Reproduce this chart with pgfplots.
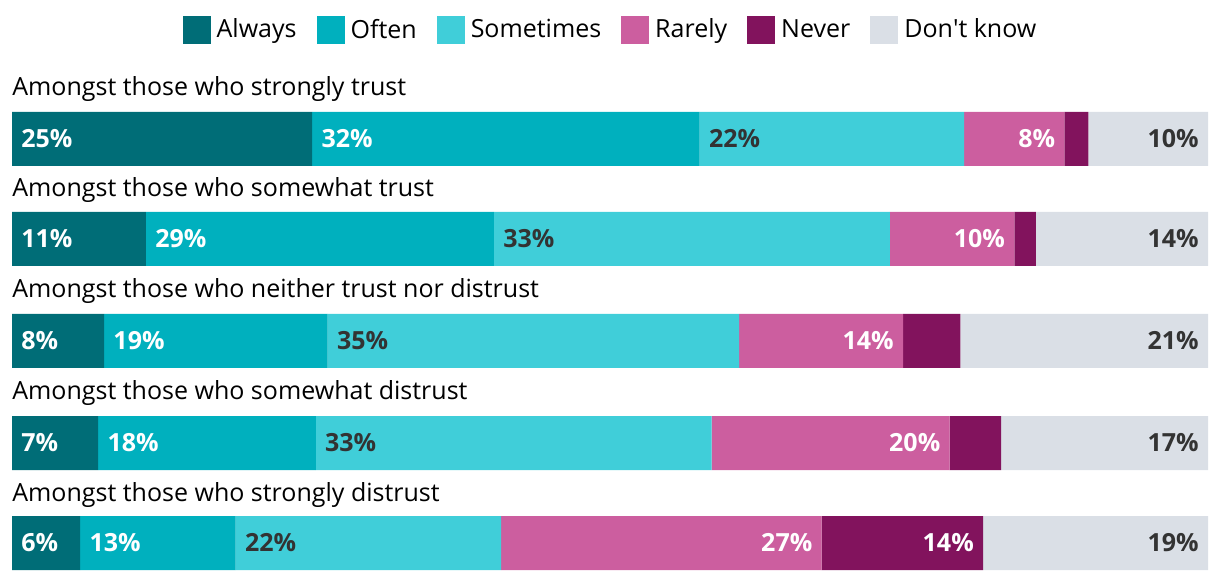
\documentclass[border=0pt]{standalone}
\usepackage{fontspec}
\setmainfont{Open Sans}
\usepackage{pgfplots}
\pgfplotsset{compat=1.18}
\usepackage{pgfplotstable}

\definecolor{cAlways}{HTML}{006D77}
\definecolor{cOften}{HTML}{00B0BE}
\definecolor{cSome}{HTML}{40CED9}
\definecolor{cRare}{HTML}{CC5E9F}
\definecolor{cNever}{HTML}{82135D}
\definecolor{cDK}{HTML}{DADFE6}
\definecolor{txt}{HTML}{333333}

% y = row centre in pixels from the top
\pgfplotstableread{
y al of so ra ne dk
139 25.1 32.4 22.1 8.4 2.0 10.0
239 11.2 29.1 33.1 10.4 1.8 14.4
341 7.7 18.7 34.4 13.7 4.8 20.7
443 7.2 18.2 33.1 19.9 4.3 17.3
543 5.7 13.0 22.2 26.8 13.5 18.8
}\bars

% labels at segment start, white
\pgfplotstableread{
x y t
0 139 25
25.1 139 32
0 239 11
11.2 239 29
0 341 8
7.7 341 19
0 443 7
7.2 443 18
0 543 6
5.7 543 13
}\labLW
% labels at segment start, dark
\pgfplotstableread{
x y t
57.5 139 22
40.3 239 33
26.4 341 35
25.4 443 33
18.7 543 22
}\labLD
% labels at segment end, white
\pgfplotstableread{
x y t
88.0 139 8
83.8 239 10
74.5 341 14
78.4 443 20
67.7 543 27
81.2 543 14
}\labRW
% labels at segment end, dark
\pgfplotstableread{
x y t
100 139 10
100 239 14
100 341 21
100 443 17
100 543 19
}\labRD

\newcommand\fnt{\fontsize{12.5}{15}\selectfont}

\begin{document}
\begin{tikzpicture}
\path[use as bounding box] (-6pt,0) rectangle (604pt,291pt);
\pgfplotsset{
  base/.style={scale only axis, width=598pt, height=291pt,
    xmin=0, xmax=100, ymin=0, ymax=582, y dir=reverse,
    axis lines=none, xtick=\empty, ytick=\empty, clip=false,
    at={(0,0)}, anchor=south west},
  lab/.style={only marks, mark=none, point meta=explicit symbolic,
    nodes near coords={\pgfplotspointmeta\%},
    every node near coord/.append style={font=\fnt\bfseries, inner sep=0pt}},
}
\begin{axis}[base, xbar stacked, bar width=27pt,
  legend columns=-1,
  legend style={at={(0.5,0.9485)}, anchor=center, draw=none, fill=none,
    font=\fnt, inner sep=0pt, nodes={inner sep=0.5pt},
    /tikz/every odd column/.append style={column sep=2.5pt},
    /tikz/every even column/.append style={column sep=9.5pt}},
  legend image code/.code={\fill[#1] (0pt,-7pt) rectangle (14pt,7pt);},
]
\addplot[fill=cAlways, draw=none] table[x=al, y=y] {\bars};
\addplot[fill=cOften, draw=none] table[x=of, y=y] {\bars};
\addplot[fill=cSome, draw=none] table[x=so, y=y] {\bars};
\addplot[fill=cRare, draw=none] table[x=ra, y=y] {\bars};
\addplot[fill=cNever, draw=none] table[x=ne, y=y] {\bars};
\addplot[fill=cDK, draw=none] table[x=dk, y=y] {\bars};
\legend{Always, Often, Sometimes, Rarely, Never, Don\textquotesingle t know}

\node[anchor=base west, inner sep=0pt, font=\fnt] at (axis cs:0,96) {Amongst those who strongly trust};
\node[anchor=base west, inner sep=0pt, font=\fnt] at (axis cs:0,197) {Amongst those who somewhat trust};
\node[anchor=base west, inner sep=0pt, font=\fnt] at (axis cs:0,298) {Amongst those who neither trust nor distrust};
\node[anchor=base west, inner sep=0pt, font=\fnt] at (axis cs:0,400) {Amongst those who somewhat distrust};
\node[anchor=base west, inner sep=0pt, font=\fnt] at (axis cs:0,501) {Amongst those who strongly distrust};
\end{axis}

\begin{axis}[base]
\addplot[lab, every node near coord/.append style={anchor=west, xshift=4.5pt, text=white}] table[x=x, y=y, meta=t] {\labLW};
\addplot[lab, every node near coord/.append style={anchor=west, xshift=4.5pt, text=txt}] table[x=x, y=y, meta=t] {\labLD};
\addplot[lab, every node near coord/.append style={anchor=east, xshift=-4.5pt, text=white}] table[x=x, y=y, meta=t] {\labRW};
\addplot[lab, every node near coord/.append style={anchor=east, xshift=-4.5pt, text=txt}] table[x=x, y=y, meta=t] {\labRD};
\end{axis}
\end{tikzpicture}
\end{document}
